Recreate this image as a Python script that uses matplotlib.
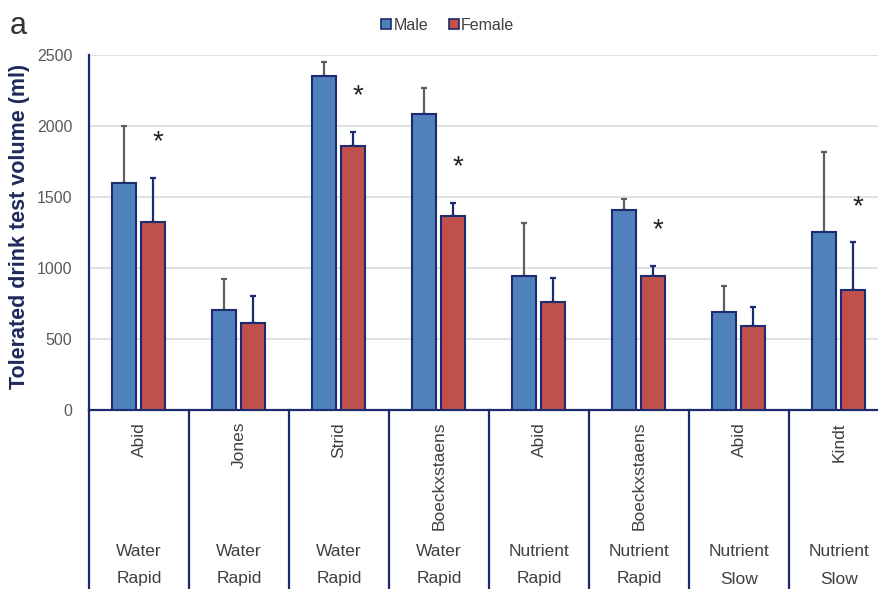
import numpy as np
import matplotlib
matplotlib.use("Agg")
import matplotlib.pyplot as plt
import matplotlib.transforms as mtransforms
from matplotlib.lines import Line2D

plt.rcParams["font.family"] = ["Liberation Sans", "DejaVu Sans"]

# ── Data: drink test volumes by study (mean + SD, ml) ─────────
studies     = ["Abid", "Jones", "Strid", "Boeckxstaens",
               "Abid", "Boeckxstaens", "Abid", "Kindt"]
drink_type  = ["Water", "Water", "Water", "Water",
               "Nutrient", "Nutrient", "Nutrient", "Nutrient"]
drink_speed = ["Rapid", "Rapid", "Rapid", "Rapid",
               "Rapid", "Rapid", "Slow", "Slow"]

male_mean   = [1600, 705, 2350, 2085, 945, 1405, 690, 1250]
male_sd     = [400, 215, 100, 180, 375, 80, 185, 570]
female_mean = [1325, 610, 1860, 1365, 760, 945, 595, 845]
female_sd   = [310, 190, 100, 95, 170, 72, 130, 335]
significant = [True, False, True, True, False, True, False, True]

# ── Style ────────────────────────────────────────────────────
NAVY    = "#1c2b6e"
BLUE    = "#4f81bd"
RED     = "#c0504d"
GRID    = "#dcdcdc"
TXT     = "#404040"
BAR_W   = 0.24
OFFSET  = 0.145

W, H = 879, 589
fig = plt.figure(figsize=(W / 100, H / 100), dpi=100)
ax_left, ax_bottom = 89 / W, (H - 410) / H
ax_height = 355 / H
ax = fig.add_axes([ax_left, ax_bottom, 800 / W, ax_height])

x = np.arange(len(studies)) + 0.5

ax.bar(x - OFFSET, male_mean, BAR_W, color=BLUE, edgecolor=NAVY,
       linewidth=1.5, zorder=3)
ax.bar(x + OFFSET, female_mean, BAR_W, color=RED, edgecolor=NAVY,
       linewidth=1.5, zorder=3)

# upper error bars only
ax.errorbar(x - OFFSET, male_mean, yerr=[np.zeros(len(x)), male_sd],
            fmt="none", ecolor="#5f5f5f", elinewidth=1.6, capsize=2.5,
            capthick=1.6, zorder=2)
ax.errorbar(x + OFFSET, female_mean, yerr=[np.zeros(len(x)), female_sd],
            fmt="none", ecolor=NAVY, elinewidth=1.6, capsize=2.5,
            capthick=1.6, zorder=2)

# significance stars above the female bars
for xi, m, s, sig in zip(x, female_mean, female_sd, significant):
    if sig:
        ax.text(xi + OFFSET + 0.04, m + s + 250, "*", ha="center",
                va="center", fontsize=20, color="#222222")

ax.set_xlim(0, len(studies))
ax.set_ylim(0, 2500)
ax.set_yticks(np.arange(0, 2501, 500))
ax.yaxis.grid(True, color=GRID, linewidth=1.2, zorder=0)
ax.set_axisbelow(True)
ax.tick_params(axis="y", length=0, pad=12, labelsize=11.5, labelcolor="#595959")
ax.set_xticks([])
for side in ["top", "right"]:
    ax.spines[side].set_visible(False)
for side in ["left", "bottom"]:
    ax.spines[side].set_color(NAVY)
    ax.spines[side].set_linewidth(1.6)

# category table below the axis
trans = mtransforms.blended_transform_factory(ax.transData, ax.transAxes)
depth = -(H - 410) / 355
for b in range(len(studies) + 1):
    ax.plot([b, b], [0, depth], color=NAVY, linewidth=1.6,
            transform=trans, clip_on=False)

px = 1 / 355
for xi, name, kind, speed in zip(x, studies, drink_type, drink_speed):
    ax.text(xi, -12 * px, name, rotation=90, ha="center", va="top",
            fontsize=12.5, color=TXT, transform=trans)
    ax.text(xi, -142 * px, kind, ha="center", va="center",
            fontsize=12.5, color=TXT, transform=trans)
    ax.text(xi, -169 * px, speed, ha="center", va="center",
            fontsize=12.5, color=TXT, transform=trans)

fig.text(20 / W, 1 - 226 / H, "Tolerated drink test volume (ml)",
         rotation=90, ha="center", va="center", fontsize=15.5,
         fontweight="bold", color="#1f2a5c")

fig.text(10 / W, 1 - 26 / H, "a", ha="left", va="center",
         fontsize=22, color="#333333")

handles = [
    Line2D([], [], linestyle="none", marker="s", markersize=7,
           markerfacecolor=BLUE, markeredgecolor=NAVY, markeredgewidth=1.2),
    Line2D([], [], linestyle="none", marker="s", markersize=7,
           markerfacecolor=RED, markeredgecolor=NAVY, markeredgewidth=1.2),
]
fig.legend(handles, ["Male", "Female"], loc="center",
           bbox_to_anchor=(448 / W, 1 - 25 / H), ncol=2, frameon=False,
           fontsize=11.5, labelcolor=TXT, handlelength=0.6,
           handletextpad=0.15, columnspacing=1.3)

fig.savefig("out.png", dpi=100)
